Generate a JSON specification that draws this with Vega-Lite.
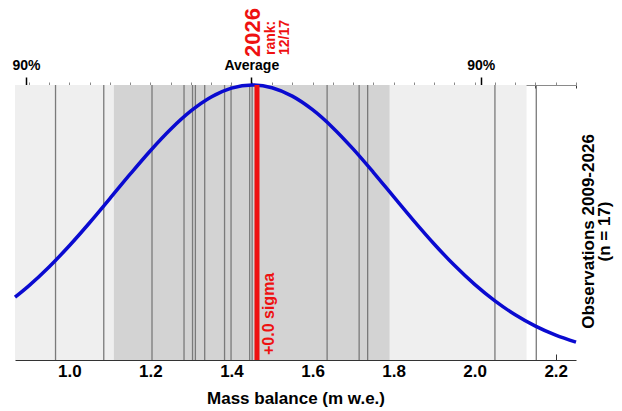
{
  "$schema": "https://vega.github.io/schema/vega-lite/v6.json",
  "width": 561,
  "height": 275,
  "autosize": "none",
  "padding": {"left": 15, "top": 85, "right": 46, "bottom": 51},
  "background": "white",
  "config": {
    "view": {"stroke": null},
    "font": "Liberation Sans",
    "axis": {
      "labelFont": "Liberation Sans",
      "titleFont": "Liberation Sans",
      "labelFontWeight": "bold",
      "titleFontWeight": "bold",
      "labelColor": "black",
      "titleColor": "black",
      "grid": false,
      "zindex": 1
    }
  },
  "datasets": {
    "bands": [
      {"band": "outer", "x0": 0.866, "x1": 2.128},
      {"band": "inner", "x0": 1.11, "x1": 1.79}
    ],
    "obs": [
      {"v": 0.966}, {"v": 1.085}, {"v": 1.204}, {"v": 1.283}, {"v": 1.304},
      {"v": 1.311}, {"v": 1.334}, {"v": 1.383}, {"v": 1.399}, {"v": 1.445},
      {"v": 1.451}, {"v": 1.636}, {"v": 1.715}, {"v": 1.736}, {"v": 2.05},
      {"v": 2.152}
    ],
    "curve": [
      {"x": 0.866, "f": 0.2284}, {"x": 0.9, "f": 0.2698}, {"x": 0.95, "f": 0.3384},
      {"x": 1.0, "f": 0.4154}, {"x": 1.05, "f": 0.4991}, {"x": 1.1, "f": 0.587},
      {"x": 1.15, "f": 0.6756}, {"x": 1.2, "f": 0.761}, {"x": 1.25, "f": 0.839},
      {"x": 1.3, "f": 0.9055}, {"x": 1.35, "f": 0.9563}, {"x": 1.4, "f": 0.9885},
      {"x": 1.452, "f": 1.0}, {"x": 1.5, "f": 0.9901}, {"x": 1.55, "f": 0.9595},
      {"x": 1.6, "f": 0.9101}, {"x": 1.65, "f": 0.8449}, {"x": 1.7, "f": 0.7676},
      {"x": 1.75, "f": 0.6826}, {"x": 1.8, "f": 0.5941}, {"x": 1.85, "f": 0.506},
      {"x": 1.9, "f": 0.4219}, {"x": 1.95, "f": 0.3442}, {"x": 2.0, "f": 0.2749},
      {"x": 2.05, "f": 0.2149}, {"x": 2.1, "f": 0.1644}, {"x": 2.15, "f": 0.1231},
      {"x": 2.2, "f": 0.0902}, {"x": 2.25, "f": 0.0647}
    ],
    "cur": [
      {"year": "2026", "v": 1.463, "rank": "rank:", "rankv": "12/17", "sigma": "+0.0 sigma"}
    ]
  },
  "resolve": {"axis": {"x": "independent", "y": "independent"}},
  "layer": [
    {
      "data": {"name": "bands"},
      "mark": {"type": "rect"},
      "encoding": {
        "x": {
          "field": "x0", "type": "quantitative",
          "scale": {"domain": [0.866, 2.25], "nice": false, "zero": false},
          "axis": {
            "values": [1.0, 1.2, 1.4, 1.6, 1.8, 2.0, 2.2],
            "format": ".1f",
            "tickSize": -6,
            "tickColor": "#333333",
            "domainColor": "#333333",
            "labelFontSize": 17,
            "labelPadding": 9,
            "title": "Mass balance (m w.e.)",
            "titleFontSize": 17,
            "titleBaseline": "alphabetic",
            "titleY": 43
          }
        },
        "x2": {"field": "x1"},
        "color": {
          "field": "band", "type": "nominal",
          "scale": {"domain": ["outer", "inner"], "range": ["#efefef", "#d3d3d3"]},
          "legend": null
        }
      }
    },
    {
      "data": {"name": "obs"},
      "mark": {"type": "rule", "color": "#7a7a7a", "strokeWidth": 1.3},
      "encoding": {
        "x": {
          "field": "v", "type": "quantitative",
          "scale": {"domain": [0.866, 2.25], "nice": false, "zero": false},
          "axis": {
            "values": [0.9, 0.95, 1.05, 1.1, 1.15, 1.25, 1.3, 1.35, 1.45, 1.5, 1.55, 1.65, 1.7, 1.75, 1.85, 1.9, 1.95, 2.05, 2.1, 2.15, 2.25],
            "labels": false,
            "tickSize": -3,
            "tickColor": "#333333",
            "domain": false,
            "title": null
          }
        }
      }
    },
    {
      "data": {"name": "curve"},
      "mark": {"type": "line", "color": "#0a0ad0", "strokeWidth": 3.5, "interpolate": "monotone"},
      "encoding": {
        "x": {
          "field": "x", "type": "quantitative",
          "scale": {"domain": [0.866, 2.25], "nice": false, "zero": false},
          "axis": {
            "orient": "top",
            "values": [0.9, 0.95, 1.0, 1.05, 1.1, 1.15, 1.2, 1.25, 1.3, 1.35, 1.4, 1.45, 1.5, 1.55, 1.6, 1.65, 1.7, 1.75, 1.8, 1.85, 1.9, 1.95, 2.0, 2.05, 2.1, 2.15, 2.2, 2.25],
            "labels": false,
            "tickSize": 3,
            "tickColor": "#8a8a8a",
            "domainColor": "#8a8a8a",
            "title": null
          }
        },
        "y": {
          "field": "f", "type": "quantitative",
          "scale": {"domain": [0, 1], "nice": false, "zero": false},
          "axis": {
            "orient": "right",
            "labels": false,
            "ticks": false,
            "domain": false,
            "title": ["Observations 2009-2026", "(n =  17)"],
            "titleFontSize": 17,
            "titleAngle": 270,
            "titleAlign": "center",
            "titleBaseline": "alphabetic",
            "titleLineHeight": 16,
            "titleX": 17,
            "titleY": 146
          }
        }
      }
    },
    {
      "data": {"name": "cur"},
      "mark": {"type": "rule", "color": "#ee1111", "strokeWidth": 5},
      "encoding": {
        "x": {
          "field": "v", "type": "quantitative",
          "scale": {"domain": [0.866, 2.25], "nice": false, "zero": false},
          "axis": {
            "orient": "top",
            "values": [0.893, 1.449, 2.015],
            "labelExpr": "datum.value > 1.2 && datum.value < 1.7 ? 'Average' : '90%'",
            "tickSize": 8,
            "tickWidth": 1.5,
            "tickColor": "black",
            "domain": false,
            "labelFontSize": 14,
            "labelPadding": 5,
            "title": null
          }
        }
      }
    },
    {
      "data": {"name": "cur"},
      "mark": {"type": "text", "angle": 270, "align": "left", "baseline": "middle", "dx": 28, "dy": -4, "fontSize": 22, "fontWeight": "bold", "color": "#ee1111", "font": "Liberation Sans"},
      "encoding": {
        "x": {"field": "v", "type": "quantitative", "scale": {"domain": [0.866, 2.25], "nice": false, "zero": false}, "axis": null},
        "y": {"datum": 1, "type": "quantitative", "axis": null},
        "text": {"field": "year"}
      }
    },
    {
      "data": {"name": "cur"},
      "mark": {"type": "text", "angle": 270, "align": "left", "baseline": "middle", "dx": 30, "dy": 14.5, "fontSize": 14, "fontWeight": "bold", "color": "#ee1111", "font": "Liberation Sans"},
      "encoding": {
        "x": {"field": "v", "type": "quantitative", "scale": {"domain": [0.866, 2.25], "nice": false, "zero": false}, "axis": null},
        "y": {"datum": 1, "type": "quantitative", "axis": null},
        "text": {"field": "rank"}
      }
    },
    {
      "data": {"name": "cur"},
      "mark": {"type": "text", "angle": 270, "align": "left", "baseline": "middle", "dx": 30, "dy": 28, "fontSize": 14, "fontWeight": "bold", "color": "#ee1111", "font": "Liberation Sans"},
      "encoding": {
        "x": {"field": "v", "type": "quantitative", "scale": {"domain": [0.866, 2.25], "nice": false, "zero": false}, "axis": null},
        "y": {"datum": 1, "type": "quantitative", "axis": null},
        "text": {"field": "rankv"}
      }
    },
    {
      "data": {"name": "cur"},
      "mark": {"type": "text", "angle": 270, "align": "left", "baseline": "middle", "dx": 5, "dy": 12.5, "fontSize": 16, "fontWeight": "bold", "color": "#ee1111", "font": "Liberation Sans"},
      "encoding": {
        "x": {"field": "v", "type": "quantitative", "scale": {"domain": [0.866, 2.25], "nice": false, "zero": false}, "axis": null},
        "y": {"datum": 0, "type": "quantitative", "axis": null},
        "text": {"field": "sigma"}
      }
    }
  ]
}
